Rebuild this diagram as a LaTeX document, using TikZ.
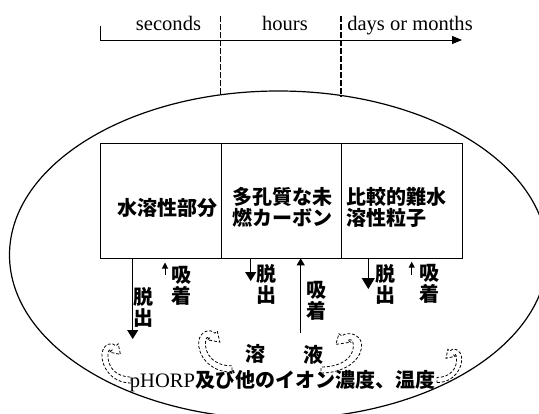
\documentclass[tikz,border=0pt]{standalone}
\usepackage{fontspec}
\setmainfont{Liberation Serif}
\newfontfamily\jp{Noto Sans CJK JP}
\usetikzlibrary{arrows.meta}
\begin{document}
\begin{tikzpicture}[x=0.75pt,y=-0.75pt,
  box/.style={draw,line width=0.75pt,minimum width=90.5pt,minimum height=86.7pt,inner sep=0,anchor=north west},
  jtext/.style={font=\jp\bfseries\fontsize{15}{15.75}\selectfont,inner sep=0},
  ttext/.style={font=\fontsize{15.4}{18}\selectfont,inner sep=0,anchor=base},
  conn/.style={line width=0.75pt},
  dashv/.style={line width=1.1pt,dash pattern=on 4.5pt off 1.5pt},
  swirlline/.style={dash pattern=on 2.2pt off 1.4pt,line width=0.6pt},
  swirl/.pic={\draw[swirlline] (0,3) .. controls (-20,3) and (-30,-14) .. (-29,-26) .. controls (-28,-36) and (-19,-39) .. (-14.9,-34.1) -- (-12.8,-36.2) -- (-10.6,-25.6) -- (-21.2,-27.8) -- (-19.1,-29.9) .. controls (-21,-31) and (-23,-30) .. (-23,-26) .. controls (-24,-14) and (-16,-3) .. (0,-3) -- cycle;}
]
\useasboundingbox (0,0) rectangle (539,414);
\begin{scope}
\clip (0,0) rectangle (539,414);
\draw[line width=0.9pt] (278.5,255) ellipse [x radius=269, y radius=164];
\end{scope}

% timeline
\coordinate (tk) at (100,26);
\coordinate (t0) at (100,40);
\coordinate (tend) at (462,40);
\draw[conn,-{Triangle[width=6pt,length=7.5pt]}] (tk) -- (t0) -- (tend);
\node[ttext] (sec) at (168.5,30) {seconds};
\node[ttext] (hrs) at (285,30) {hours};
\node[ttext] (dom) at (410,30) {days or months};
\coordinate (d1a) at (220.7,16);
\coordinate (d1b) at (220.7,95);
\coordinate (d2a) at (341,16);
\coordinate (d2b) at (341,97);
\draw[dashv] (d1a) -- (d1b);
\draw[dashv] (d2a) -- (d2b);

% boxes
\node[box] (b1) at (100,142.7) {};
\node[box] (b2) at (220.7,142.7) {};
\node[box] (b3) at (341,142.7) {};
\node[jtext] (t1) at (167.5,208) {水溶性部分};
\node[jtext,align=left,anchor=west] (t2) at (232,207.5) {多孔質な未\\燃カーボン};
\node[jtext,align=left,anchor=west] (t3) at (346,207.5) {比較的難水\\溶性粒子};

% arrows
\coordinate (a1s) at (132.7,258.3); \coordinate (a1e) at (132.7,339);
\coordinate (a2s) at (165,275);     \coordinate (a2e) at (165,262.5);
\coordinate (a3s) at (250.7,258.3); \coordinate (a3e) at (250.7,281);
\coordinate (a4s) at (300.7,333);   \coordinate (a4e) at (300.7,258.3);
\coordinate (a5s) at (368.3,258.3); \coordinate (a5e) at (368.3,289);
\coordinate (a6s) at (411.7,275);   \coordinate (a6e) at (411.7,261.7);
\draw[conn,-{Triangle[width=8.25pt,length=6.75pt]}] (a1s) -- (a1e);
\draw[conn,-{Triangle[width=4.5pt,length=4.5pt]}] (a2s) -- (a2e);
\draw[conn,-{Triangle[width=8.25pt,length=6.75pt]}] (a3s) -- (a3e);
\draw[conn,-{Triangle[width=6pt,length=5.25pt]}] (a4s) -- (a4e);
\draw[conn,-{Triangle[width=9.75pt,length=8.25pt]}] (a5s) -- (a5e);
\draw[conn,-{Triangle[width=4.5pt,length=4.5pt]}] (a6s) -- (a6e);

% labels
\node[jtext,align=center] (l1) at (143,307) {脱\\出};
\node[jtext,align=center] (l2) at (181,286) {吸\\着};
\node[jtext,align=center] (l3) at (266,284.5) {脱\\出};
\node[jtext,align=center] (l4) at (316.5,300.5) {吸\\着};
\node[jtext,align=center] (l5) at (385,284) {脱\\出};
\node[jtext,align=center] (l6) at (429,284) {吸\\着};

% solution
\node[jtext] (s1) at (255,354) {溶};
\node[jtext] (s2) at (313,355) {液};
\node[inner sep=0] (cond) at (282.5,381) {\fontsize{15.4}{18}\selectfont pHORP\jp\bfseries\fontsize{15}{18}\selectfont 及び他のイオン濃度、温度};

% swirls
\pic at (131,380) {swirl};
\pic[xscale=1.15,yscale=1.05] at (232,369) {swirl};
\pic[xscale=-1.4] at (321,370) {swirl};
\pic[xscale=-0.85,yscale=0.85] at (437,380) {swirl};
\end{tikzpicture}
\end{document}
